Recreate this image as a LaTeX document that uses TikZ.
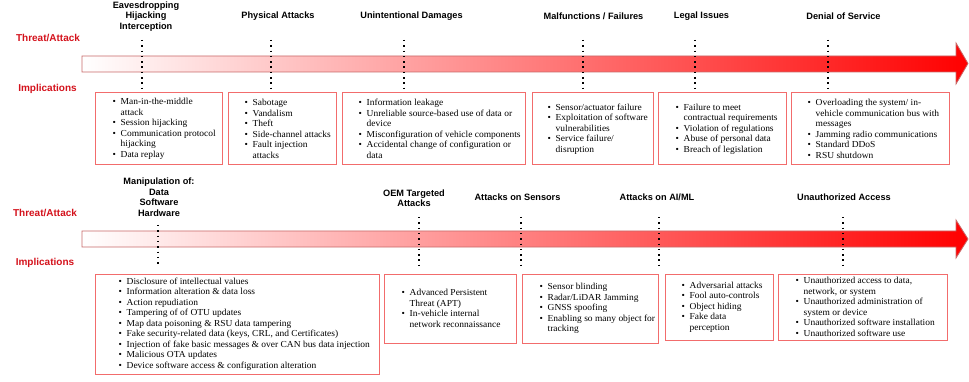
\documentclass[tikz,border=0pt]{standalone}
\usepackage{fontspec}
\setmainfont[FakeStretch=1.03]{Liberation Serif}
\setsansfont{Liberation Sans}
\usepackage{xcolor}

\definecolor{threatred}{RGB}{212,18,28}
\definecolor{boxred}{RGB}{242,108,108}
\definecolor{bandedge}{RGB}{200,105,105}

\newcommand{\bpt}{\makebox[8pt][l]{\textbullet}}
\newcommand{\bcont}{\hspace*{8pt}}

\begin{document}
\begin{tikzpicture}[x=1pt,y=-1pt]

% ---------- common style ----------
\tikzstyle{rowlbl}=[text=threatred,inner sep=0pt,font=\sffamily\bfseries\fontsize{10}{12}\selectfont]
\tikzstyle{hdr}=[align=center,inner sep=0pt,font=\sffamily\bfseries\fontsize{9.2}{10.5}\selectfont]
\tikzstyle{implbox}=[draw=boxred,line width=1pt,inner sep=0pt]
\tikzstyle{impltext}=[anchor=west,align=left,inner sep=0pt,font=\fontsize{9.2}{10.5}\selectfont]
\tikzstyle{vdots}=[line width=1.5pt,dash pattern=on 1.5pt off 3.8pt]
\tikzstyle{trend}=[left color=white,right color=red,draw=bandedge,line width=0.8pt]

\useasboundingbox (0,0) rectangle (969,382);

% ================== Row 1 ==================
\node[rowlbl] (thr1) at (48,38) {Threat/Attack};
\node[rowlbl] (imp1lbl) at (47.5,89) {Implications};

% arrow band
\path[trend] (82,56) -- (956,56) -- (956,43) -- (968,63.5) -- (956,84)
  -- (956,72) -- (82,72) -- cycle;

% threat headers
\node[hdr] (h1) at (146,16.5) {Eavesdropping\\Hijacking\\Interception};
\node[hdr] (h2) at (278,16.5) {Physical Attacks};
\node[hdr] (h3) at (411.5,16.5) {Unintentional Damages};
\node[hdr] (h4) at (593.5,16.5) {Malfunctions / Failures};
\node[hdr] (h5) at (701.5,16.5) {Legal Issues};
\node[hdr] (h6) at (843.5,16.5) {Denial of Service};

% dotted markers
\foreach \i/\x in {1/142,2/271,3/404,4/583,5/695,6/828}{
  \coordinate (d\i t) at (\x,40);
  \coordinate (d\i b) at (\x,88);
  \draw[vdots] (d\i t) -- (d\i b);
}

% implication boxes
\node[implbox,minimum width=127pt,minimum height=72pt] (b1) at (158.5,129) {};
\node[implbox,minimum width=108pt,minimum height=72pt] (b2) at (282,129) {};
\node[implbox,minimum width=183pt,minimum height=72pt] (b3) at (433.5,129) {};
\node[implbox,minimum width=121pt,minimum height=72pt] (b4) at (592.5,129) {};
\node[implbox,minimum width=128pt,minimum height=72pt] (b5) at (722,129) {};
\node[implbox,minimum width=158pt,minimum height=72pt] (b6) at (870,129) {};

\node[impltext] (t1) at ([xshift=18pt]b1.west)
  {\bpt Man-in-the-middle\\\bcont attack\\\bpt Session hijacking\\
   \bpt Communication protocol\\\bcont hijacking\\\bpt Data replay};
\node[impltext] (t2) at ([xshift=17pt]b2.west)
  {\bpt Sabotage\\\bpt Vandalism\\\bpt Theft\\\bpt Side-channel attacks\\
   \bpt Fault injection\\\bcont attacks};
\node[impltext] (t3) at ([xshift=17pt]b3.west)
  {\bpt Information leakage\\\bpt Unreliable source-based use of data or\\\bcont device\\
   \bpt Misconfiguration of vehicle components\\
   \bpt Accidental change of configuration or\\\bcont data};
\node[impltext] (t4) at ([xshift=16pt]b4.west)
  {\bpt Sensor/actuator failure\\\bpt Exploitation of software\\\bcont vulnerabilities\\
   \bpt Service failure/\\\bcont disruption};
\node[impltext] (t5) at ([xshift=18pt]b5.west)
  {\bpt Failure to meet\\\bcont contractual requirements\\\bpt Violation of regulations\\
   \bpt Abuse of personal data\\\bpt Breach of legislation};
\node[impltext] (t6) at ([xshift=17pt]b6.west)
  {\bpt Overloading the system/ in-\\\bcont vehicle communication bus with\\\bcont messages\\
   \bpt Jamming radio communications\\\bpt Standard DDoS\\\bpt RSU shutdown};

% ================== Row 2 ==================
\node[rowlbl] (thr2) at (45,213) {Threat/Attack};
\node[rowlbl] (imp2lbl) at (45,263) {Implications};

% arrow band
\path[trend] (82,231) -- (956,231) -- (956,220) -- (968,239) -- (956,258)
  -- (956,247) -- (82,247) -- cycle;

% threat headers
\node[hdr] (g1) at (159,197) {Manipulation of:\\Data\\Software\\Hardware};
\node[hdr] (g2) at (414,198) {OEM Targeted\\Attacks};
\node[hdr] (g3) at (517.5,197) {Attacks on Sensors};
\node[hdr] (g4) at (657,197) {Attacks on AI/ML};
\node[hdr] (g5) at (844,197) {Unauthorized Access};

% dotted markers
\coordinate (e1t) at (158,225);
\coordinate (e1b) at (158,267);
\draw[vdots] (e1t) -- (e1b);
\foreach \i/\x in {2/419,3/521,4/659,5/843}{
  \coordinate (e\i t) at (\x,217);
  \coordinate (e\i b) at (\x,265);
  \draw[vdots] (e\i t) -- (e\i b);
}

% implication boxes
\node[implbox,minimum width=284pt,minimum height=100pt] (c1) at (237,324) {};
\node[implbox,minimum width=132pt,minimum height=69pt] (c2) at (450,308.5) {};
\node[implbox,minimum width=136pt,minimum height=69pt] (c3) at (590,308.5) {};
\node[implbox,minimum width=108pt,minimum height=66pt] (c4) at (719,307) {};
\node[implbox,minimum width=169pt,minimum height=66pt] (c5) at (862.5,307) {};

\node[impltext] (u1) at ([xshift=24pt]c1.west)
  {\bpt Disclosure of intellectual values\\\bpt Information alteration \& data loss\\
   \bpt Action repudiation\\\bpt Tampering of of OTU updates\\
   \bpt Map data poisoning \& RSU data tampering\\
   \bpt Fake security-related data (keys, CRL, and Certificates)\\
   \bpt Injection of fake basic messages \& over CAN bus data injection\\
   \bpt Malicious OTA updates\\\bpt Device software access \& configuration alteration};
\node[impltext] (u2) at ([xshift=18pt]c2.west)
  {\bpt Advanced Persistent\\\bcont Threat (APT)\\\bpt In-vehicle internal\\
   \bcont network reconnaissance};
\node[impltext] (u3) at ([xshift=18pt]c3.west)
  {\bpt Sensor blinding\\\bpt Radar/LiDAR Jamming\\\bpt GNSS spoofing\\
   \bpt Enabling so many object for\\\bcont tracking};
\node[impltext] (u4) at ([xshift=17pt]c4.west)
  {\bpt Adversarial attacks\\\bpt Fool auto-controls\\\bpt Object hiding\\
   \bpt Fake data\\\bcont perception};
\node[impltext] (u5) at ([xshift=18pt]c5.west)
  {\bpt Unauthorized access to data,\\\bcont network, or system\\
   \bpt Unauthorized administration of\\\bcont system or device\\
   \bpt Unauthorized software installation\\\bpt Unauthorized software use};

\end{tikzpicture}
\end{document}
